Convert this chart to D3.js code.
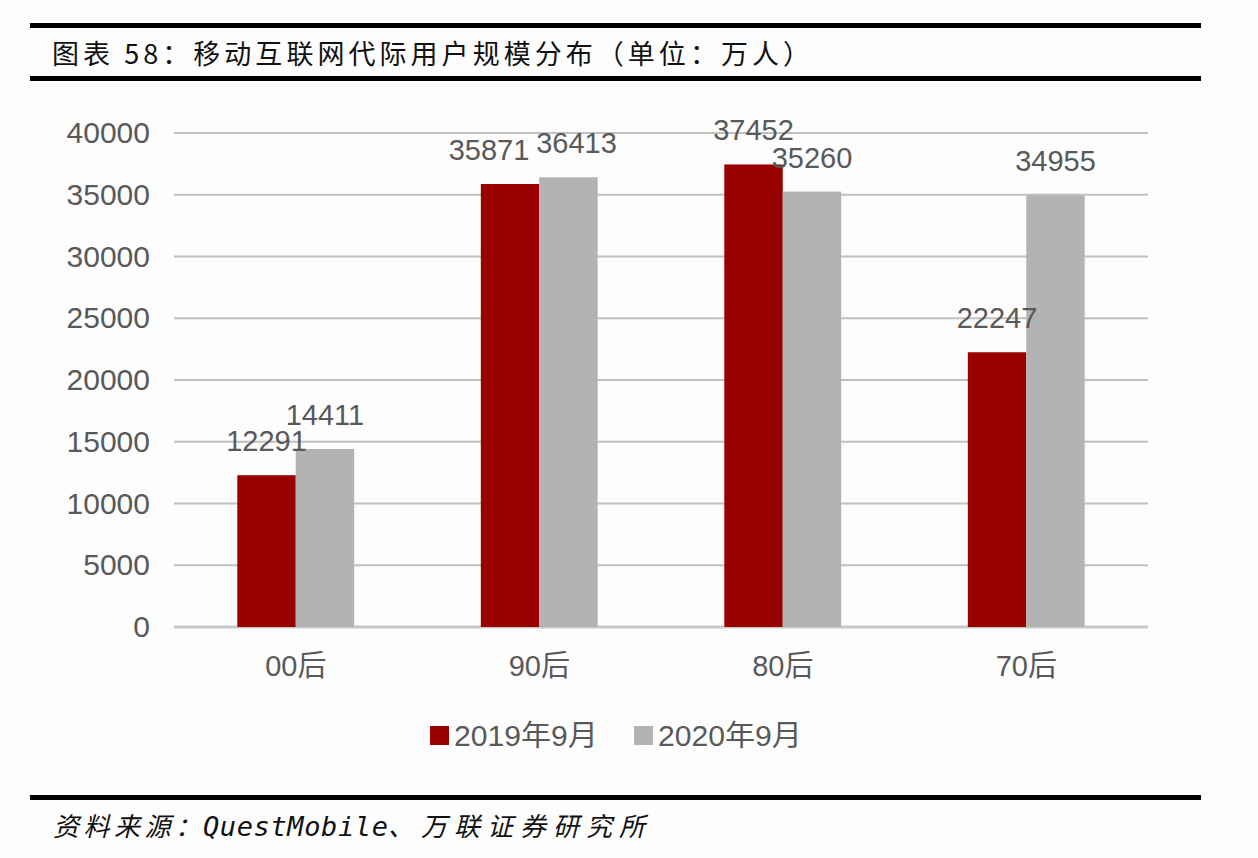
<!DOCTYPE html>
<html>
<head>
<meta charset="utf-8">
<script src="https://cdn.jsdelivr.net/npm/d3@7/dist/d3.min.js"></script>
<style>
  html, body { margin: 0; padding: 0; background: #fff; }
  svg { display: block; }
</style>
</head>
<body>
<div id="chart"></div>
<script>
// 代际分类与两期数据（单位：万人）
const categories = ["00后", "90后", "80后", "70后"];
const seriesNames = ["2019年9月", "2020年9月"];
const values2019 = [12291, 35871, 37452, 22247];
const values2020 = [14411, 36413, 35260, 34955];
const yTicks = [0, 5000, 10000, 15000, 20000, 25000, 30000, 35000, 40000];

const titleText = "图表 58：移动互联网代际用户规模分布（单位：万人）";
const sourceParts = ["资料来源：", "QuestMobile", "、万联证券研究所"];

(() => {
  const W = 1258, H = 858;
  const colors = ["#990000", "#b3b3b3"];
  const font = '"Liberation Sans", Arial, "Noto Sans CJK SC", sans-serif';
  const cjk = '"Noto Sans CJK SC", sans-serif';

  const svg = d3.select("#chart").append("svg")
    .attr("width", W).attr("height", H)
    .attr("viewBox", `0 0 ${W} ${H}`);

  svg.append("rect").attr("width", W).attr("height", H).attr("fill", "#fdfdfd");

  // 标题上下粗线
  svg.append("rect").attr("x", 30).attr("y", 23).attr("width", 1171).attr("height", 5).attr("fill", "#000");
  svg.append("rect").attr("x", 30).attr("y", 76).attr("width", 1171).attr("height", 5).attr("fill", "#000");
  svg.append("text")
    .attr("x", 52).attr("y", 64)
    .attr("textLength", 758).attr("lengthAdjust", "spacing")
    .style("font-family", cjk).style("font-size", "27px").attr("fill", "#111")
    .text(titleText);

  // 底部来源（中文 + 等宽英文混排）
  svg.append("rect").attr("x", 30).attr("y", 795).attr("width", 1171).attr("height", 5).attr("fill", "#000");
  const src = svg.append("text")
    .attr("y", 836)
    .attr("fill", "#111")
    .style("font-style", "italic");
  const srcLayout = [
    { x: 53, len: 148, family: cjk, size: 26 },
    { x: 203, len: 185, family: '"DejaVu Sans Mono", monospace', size: 27 },
    { x: 388, len: 257, family: cjk, size: 26 }
  ];
  sourceParts.forEach((t, i) => {
    src.append("tspan")
      .attr("x", srcLayout[i].x)
      .attr("textLength", srcLayout[i].len).attr("lengthAdjust", "spacing")
      .style("font-family", srcLayout[i].family)
      .style("font-size", srcLayout[i].size + "px")
      .text(t);
  });

  // === 绘图区 ===
  const plot = { left: 174, right: 1148, top: 133, bottom: 627 };

  const x = d3.scaleBand().domain(categories)
    .range([plot.left, plot.right]).paddingInner(0.52).paddingOuter(0.26);
  const xs = d3.scaleBand().domain(seriesNames).range([0, x.bandwidth()]);
  const y = d3.scaleLinear().domain([0, 40000]).range([plot.bottom, plot.top]);

  // 网格线
  svg.append("g").selectAll("line").data(yTicks).enter().append("line")
    .attr("x1", plot.left).attr("x2", plot.right)
    .attr("y1", d => y(d)).attr("y2", d => y(d))
    .attr("stroke", d => d === 0 ? "#c8c8c8" : "#c0c0c0")
    .attr("stroke-width", d => d === 0 ? 3 : 2);

  // Y 轴标签
  const yAxis = svg.append("g")
    .attr("transform", `translate(${plot.left - 24},0)`)
    .call(d3.axisLeft(y).tickValues(yTicks).tickSize(0).tickPadding(0).tickFormat(d3.format("d")));
  yAxis.select(".domain").remove();
  yAxis.selectAll("text")
    .attr("fill", "#595959")
    .style("font-family", font).style("font-size", "30px");

  // X 轴标签
  const xAxis = svg.append("g")
    .attr("transform", `translate(0,${plot.bottom})`)
    .call(d3.axisBottom(x).tickSize(0).tickPadding(28));
  xAxis.select(".domain").remove();
  xAxis.selectAll("text")
    .attr("fill", "#595959")
    .style("font-family", font).style("font-size", "29px");

  const rows = categories.map((c, i) => ({
    cat: c,
    items: [
      { s: seriesNames[0], v: values2019[i], k: 0 },
      { s: seriesNames[1], v: values2020[i], k: 1 }
    ]
  }));

  const groups = svg.append("g").selectAll("g").data(rows).enter().append("g")
    .attr("transform", d => `translate(${x(d.cat)},0)`);

  groups.selectAll("rect").data(d => d.items).enter().append("rect")
    .attr("x", d => xs(d.s))
    .attr("y", d => y(d.v))
    .attr("width", xs.bandwidth())
    .attr("height", d => plot.bottom - y(d.v))
    .attr("fill", d => colors[d.k]);

  // 数据标签：两个标签高度接近时左右错开
  const labelGap = 24;
  groups.each(function (row) {
    const ly = row.items.map(d => y(d.v) - labelGap);
    const close = Math.abs(ly[0] - ly[1]) < 24;
    d3.select(this).selectAll("text.val").data(row.items).enter().append("text")
      .attr("class", "val")
      .attr("x", d => xs(d.s) + xs.bandwidth() / 2 + (close ? (d.k === 0 ? -21 : 8) : 0))
      .attr("y", (d, i) => ly[i])
      .attr("text-anchor", "middle")
      .attr("fill", "#595959")
      .style("font-family", font).style("font-size", "29px")
      .text(d => d.v);
  });

  // 图例
  const legendX = [430, 634];
  const legend = svg.append("g").selectAll("g").data(seriesNames).enter().append("g")
    .attr("transform", (d, i) => `translate(${legendX[i]},726)`);
  legend.append("rect").attr("width", 19).attr("height", 19)
    .attr("fill", (d, i) => colors[i]);
  legend.append("text")
    .attr("x", 24).attr("y", 20)
    .attr("textLength", 144).attr("lengthAdjust", "spacingAndGlyphs")
    .attr("fill", "#595959")
    .style("font-family", font).style("font-size", "29px")
    .text(d => d);
})();
</script>
</body>
</html>
